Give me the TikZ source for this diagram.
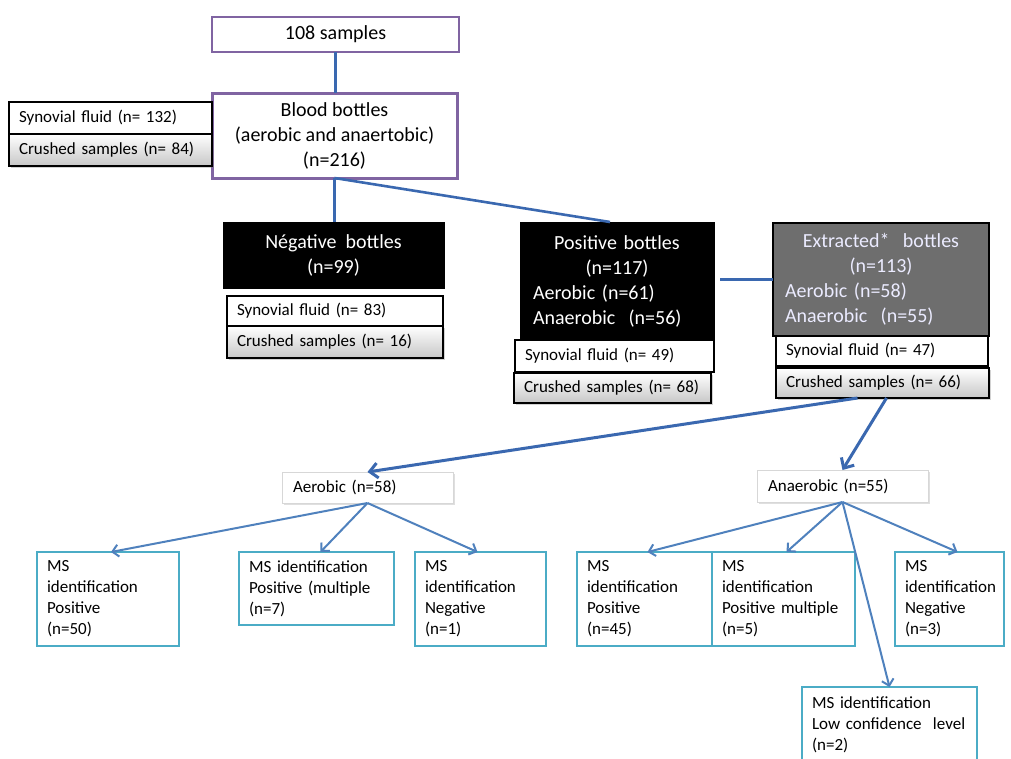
\documentclass[tikz,border=0pt]{standalone}
\usepackage{fontspec}
\setmainfont{Carlito}
\usetikzlibrary{arrows.meta,shadows}
\definecolor{purp}{RGB}{128,100,162}
\definecolor{lnblue}{RGB}{58,104,176}
\definecolor{arblue}{RGB}{79,129,189}
\definecolor{msteal}{RGB}{75,172,198}
\definecolor{extgray}{RGB}{110,110,110}
\definecolor{lgborder}{RGB}{215,215,215}
\newcommand{\bigf}{\fontsize{20}{25}\selectfont}
\newcommand{\smf}{\fontsize{17}{21}\selectfont}
\begin{document}
\begin{tikzpicture}[x=1pt,y=-1pt,
  base/.style={rectangle, anchor=north west, inner ysep=0pt, outer sep=0pt},
  purpbox/.style={base, draw=purp, fill=white, font=\bigf, align=center},
  sbox/.style={base, draw=black, line width=1.4pt, fill=white, font=\smf, align=left, inner xsep=10pt},
  cbox/.style={sbox, top color=white, bottom color=black!22, drop shadow={opacity=0.35, shadow xshift=1.5pt, shadow yshift=-1.5pt}},
  blkbox/.style={base, draw=black, fill=black, text=white, font=\bigf, line width=1pt},
  extbox/.style={base, draw=black, fill=extgray, text=white!92!blue, font=\bigf, line width=2pt},
  grpbox/.style={base, draw=lgborder, fill=white, font=\smf, align=left, inner xsep=11pt, line width=0.8pt, drop shadow={opacity=0.25, shadow xshift=1.5pt, shadow yshift=-1.5pt}},
  msbox/.style={base, draw=msteal, fill=white, font=\smf, align=left, inner xsep=10pt, line width=1.8pt},
  conn/.style={draw=lnblue, line width=2.6pt},
  bigarr/.style={draw=lnblue, line width=3pt, -{Straight Barb[length=8pt,width=15pt]}},
  smarr/.style={draw=arblue, line width=2pt, -{Straight Barb[length=6pt,width=12pt]}}
]
\useasboundingbox (0,0) rectangle (1011,758);
\clip (0,0) rectangle (1011,758);
\fill[white] (0,0) rectangle (1011,758);

% top
\node[purpbox, line width=2pt, minimum width=247pt, minimum height=35pt] (s108) at (212,17) {108 samples};
\node[purpbox, line width=3pt, minimum width=245pt, minimum height=85pt] (blood) at (212,93) {Blood bottles\\(aerobic and anaertobic)\\(n=216)};
\node[sbox, text width=183pt, minimum height=32pt] (syn132) at (9,102) {Synovial fluid (n= 132)};
\node[cbox, text width=183pt, minimum height=32pt] (cr84) at (9,134) {Crushed samples (n= 84)};

% second row
\node[blkbox, align=center, minimum width=221pt, minimum height=66pt] (neg) at (223,222) {Négative\ \ bottles\\(n=99)};
\node[sbox, text width=196pt, minimum height=30pt] (syn83) at (227,296) {Synovial fluid (n= 83)};
\node[cbox, text width=196pt, minimum height=32pt] (cr16) at (227,326) {Crushed samples (n= 16)};

\node[blkbox, align=left, inner xsep=13pt, text width=168pt, minimum height=118pt] (pos) at (520,222)
  {{\centering Positive bottles\\(n=117)\par}Aerobic (n=61)\\Anaerobic\ \ (n=56)};
\node[sbox, text width=179pt, minimum height=32pt] (syn49) at (515,340) {Synovial fluid (n= 49)};
\node[cbox, text width=177pt, minimum height=30pt] (cr68) at (514,373) {Crushed samples (n= 68)};

\node[extbox, align=left, inner xsep=12pt, text width=192pt, minimum height=113pt] (ext) at (773,223)
  {{\centering Extracted*\ \ bottles\\(n=113)\par}Aerobic (n=58)\\Anaerobic\ \ (n=55)};
\node[sbox, text width=192pt, minimum height=30pt] (syn47) at (776,336) {Synovial fluid (n= 47)};
\node[cbox, text width=193pt, minimum height=30pt] (cr66) at (776,368) {Crushed samples (n= 66)};

% group boxes
\node[grpbox, text width=149pt, minimum height=31pt] (aer) at (282,472) {Aerobic (n=58)};
\node[grpbox, text width=149pt, minimum height=32pt] (ana) at (757,470) {Anaerobic (n=55)};

% MS boxes
\node[msbox, text width=122pt, minimum height=94pt] (a1) at (37,552) {MS\\identification\\Positive\\(n=50)};
\node[msbox, text width=135pt, minimum height=73pt] (a2) at (239,552) {MS identification\\Positive (multiple\\(n=7)};
\node[msbox, text width=111pt, minimum height=94pt] (a3) at (415,552) {MS\\identification\\Negative\\(n=1)};
\node[msbox, text width=115pt, minimum height=94pt] (b1) at (577,552) {MS\\identification\\Positive\\(n=45)};
\node[msbox, text width=123pt, minimum height=94pt] (b2) at (712,552) {MS\\identification\\Positive multiple\\(n=5)};
\node[msbox, text width=89pt, minimum height=94pt] (b3) at (895,552) {MS\\identification\\Negative\\(n=3)};
\node[msbox, text width=155pt, minimum height=76pt] (b4) at (802,687) {MS identification\\Low confidence\ \ level\\(n=2)};

% connectors
\draw[conn] (s108.south) -- (s108.south |- blood.north);
\draw[conn] (blood.south) -- (blood.south |- neg.north);
\draw[conn] (blood.south) -- ([xshift=-7pt]pos.north);
\draw[conn, shorten <=6pt] (ext.west -| pos.east) -- (ext.west);
\draw[bigarr] ([xshift=-25pt]cr66.south) -- (aer.north);
\draw[bigarr] ([xshift=4pt]cr66.south) -- (ana.north);

\draw[smarr] (aer.south) -- ([xshift=3pt]a1.north);
\draw[smarr] (aer.south) -- ([xshift=4pt]a2.north);
\draw[smarr] (aer.south) -- ([xshift=-3pt]a3.north);
\draw[smarr] (ana.south) -- ([xshift=3pt]b1.north);
\draw[smarr] (ana.south) -- ([xshift=3pt]b2.north);
\draw[smarr] (ana.south) -- ([xshift=8pt]b3.north);
\draw[smarr] (ana.south) -- (b4.north);
\end{tikzpicture}
\end{document}
